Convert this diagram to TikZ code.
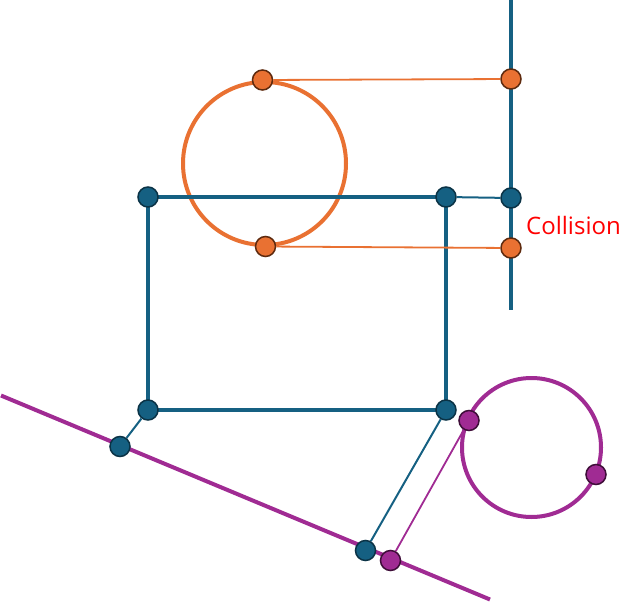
\documentclass[tikz,border=0pt]{standalone}
\usepackage{fontspec}
\setmainfont{Open Sans}
\definecolor{cblue}{HTML}{156082}
\definecolor{cblueD}{HTML}{0B3346}
\definecolor{corange}{HTML}{E97132}
\definecolor{corangeD}{HTML}{5E2A0E}
\definecolor{cpurple}{HTML}{A02B93}
\definecolor{cpurpleD}{HTML}{3F0E39}
\begin{document}
\begin{tikzpicture}[x=1pt,y=-1pt,
  dotb/.style={circle,inner sep=0pt,minimum size=20pt,fill=cblue,draw=cblueD,line width=1.5pt},
  doto/.style={circle,inner sep=0pt,minimum size=20pt,fill=corange,draw=corangeD,line width=1.5pt},
  dotp/.style={circle,inner sep=0pt,minimum size=20pt,fill=cpurple,draw=cpurpleD,line width=1.5pt},
  thickb/.style={cblue,line width=4pt},
  thinb/.style={cblue,line width=2pt},
  thino/.style={corange,line width=1.8pt},
  thinp/.style={cpurple,line width=1.8pt},
  ring/.style={line width=4pt}]
\useasboundingbox (0,0) rectangle (640,602);
% vertical line
\coordinate (vtop) at (511,0);
\coordinate (vbot) at (511,310);
\draw[thickb] (vtop) -- (vbot);
% purple line
\coordinate (ps) at (1,395.5);
\coordinate (pe) at (490,599.5);
\draw[cpurple,line width=4pt] (ps) -- (pe);
% orange circle
\draw[corange,ring] (264.5,163.5) circle (81.5);
% purple circle
\draw[cpurple,ring] (531.5,447.5) circle (69.5);
% rectangle
\coordinate (r1) at (148,197);
\coordinate (r2) at (446,197);
\coordinate (r3) at (446,410);
\coordinate (r4) at (148,410);
\draw[thickb] (r1) -- (r2) -- (r3) -- (r4) -- cycle;
% dots
\node[dotb] (b1) at (r1) {};
\node[dotb] (b2) at (r2) {};
\node[dotb] (b3) at (r3) {};
\node[dotb] (b4) at (r4) {};
\node[dotb] (bv) at (511,198) {};
\node[dotb] (bl) at (120,446.5) {};
\node[dotb] (bb) at (365.5,550.5) {};
\node[doto] (o1) at (262.5,80) {};
\node[doto] (o2) at (265.5,246.5) {};
\node[doto] (ov1) at (511,79) {};
\node[doto] (ov2) at (511,248) {};
\node[dotp] (p1) at (390.5,560.5) {};
\node[dotp] (p2) at (469,420.5) {};
\node[dotp] (p3) at (596,474.5) {};
% connectors
\draw[thino] (o1) -- (ov1);
\draw[thino] (o2) -- (ov2);
\draw[thinb] (b2) -- (bv);
\draw[thinb] (b4) -- (bl);
\draw[thinb] (b3) -- (bb);
\draw[thinp] (p2) -- (p1);
% label
\node[anchor=base west,inner sep=0pt,text=red,font=\fontsize{24}{28}\selectfont] (lbl) at (526,234) {Collision};
\end{tikzpicture}
\end{document}
